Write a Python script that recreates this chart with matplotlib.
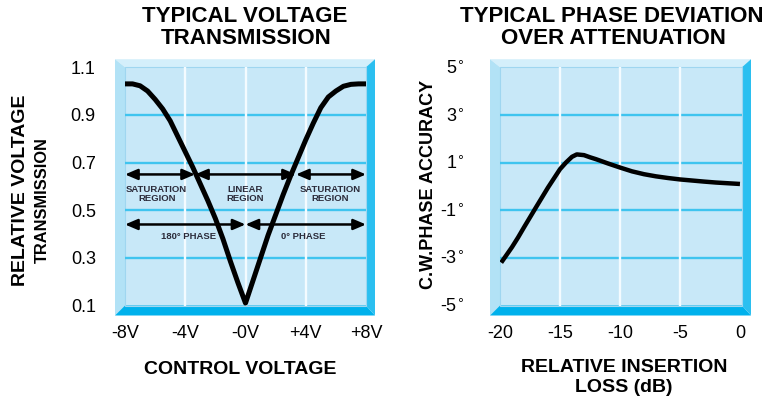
import matplotlib
matplotlib.use("Agg")
import matplotlib.pyplot as plt
from matplotlib.patches import Polygon, Rectangle

# ---------------- data ----------------
# Left chart: relative voltage transmission vs control voltage
ctrl_v = [-8, -7.5, -7, -6.5, -6, -5.5, -5, -4.5, -4, -3.5, -3, -2.5, -2, -1.5, -1, -0.5, 0,
          0.5, 1, 1.5, 2, 2.5, 3, 3.5, 4, 4.5, 5, 5.5, 6, 6.5, 7, 7.5, 8]
transmission = [1.03, 1.03, 1.022, 1.0, 0.965, 0.925, 0.875, 0.81, 0.745, 0.68, 0.61, 0.54, 0.465,
                0.38, 0.285, 0.195, 0.11,
                0.205, 0.30, 0.395, 0.48, 0.565, 0.645, 0.72, 0.795, 0.865, 0.93, 0.975, 1.0,
                1.02, 1.028, 1.03, 1.03]
left_xticks = [-8, -4, 0, 4, 8]
left_xticklabels = ["-8V", "-4V", "-0V", "+4V", "+8V"]
left_yticks = [0.1, 0.3, 0.5, 0.7, 0.9, 1.1]
left_yticklabels = ["0.1", "0.3", "0.5", "0.7", "0.9", "1.1"]

# region arrows (x-extents) and their labels
row1_y = 0.65
row1_segments = [(-8, -3.35), (-3.35, 3.35), (3.35, 8)]
row2_y = 0.44
row2_segments = [(-8, 0), (0, 8)]
region_labels = ["SATURATION\nREGION", "LINEAR\nREGION", "SATURATION\nREGION"]
region_label_x = [-5.9, 0.0, 5.6]
region_label_y = 0.568
phase_labels = ["180° PHASE", "0° PHASE"]
phase_label_x = [-3.8, 3.85]
phase_label_y = 0.39

# Right chart: phase deviation vs relative insertion loss
loss_db = [-19.9, -19, -18.5, -18, -17, -16, -15, -14.5, -14, -13.6, -13, -12.5, -12, -11.5,
           -11, -10, -9, -8, -7, -6, -5, -4, -3, -2, -1, 0]
phase_dev = [-3.2, -2.55, -2.15, -1.72, -0.88, -0.05, 0.72, 1.0, 1.24, 1.34, 1.31, 1.22, 1.14,
             1.05, 0.96, 0.79, 0.63, 0.51, 0.42, 0.35, 0.29, 0.245, 0.2, 0.16, 0.13, 0.1]
right_xticks = [-20, -15, -10, -5, 0]
right_xticklabels = ["-20", "-15", "-10", "-5", "0"]
right_yticks = [-5, -3, -1, 1, 3, 5]
right_yticklabels = [r"-5$^{\circ}$", r"-3$^{\circ}$", r"-1$^{\circ}$",
                     r"1$^{\circ}$", r"3$^{\circ}$", r"5$^{\circ}$"]

# ---------------- style ----------------
BOLD = ["Liberation Sans", "DejaVu Sans"]
NARROW = ["Liberation Sans Narrow", "Liberation Sans", "DejaVu Sans"]
plt.rcParams["font.family"] = BOLD
plt.rcParams["mathtext.fontset"] = "dejavusans"

FILL = "#c8e8f8"
HGRID = "#3fc4ef"
VGRID = "#f4fbff"
TOP_BAND = "#d4effb"
LEFT_BAND = "#b2e2f6"
RIGHT_BAND = "#2bbff0"
BOTTOM_BAND = "#00b1ec"


def style_panel(ax, hgrid, vgrid):
    ax.set_facecolor(FILL)
    for s in ax.spines.values():
        s.set_visible(False)
    for y in hgrid:
        ax.axhline(y, color=HGRID, lw=1.7, zorder=1)
    for x in vgrid:
        ax.axvline(x, color=VGRID, lw=1.7, zorder=1.2)
    bb = ax.get_position()
    fw, fh = 776.0, 400.0
    wpx, hpx = bb.width * fw, bb.height * fh
    dl, dr = 10 / wpx, 9 / wpx
    dt, db = 8 / hpx, 10 / hpx
    T = ax.transAxes
    polys = [
        ([(-dl, 1 + dt), (1 + dr, 1 + dt), (1, 1), (0, 1)], TOP_BAND),
        ([(-dl, -db), (-dl, 1 + dt), (0, 1), (0, 0)], LEFT_BAND),
        ([(-dl, -db), (1 + dr, -db), (1, 0), (0, 0)], BOTTOM_BAND),
        ([(1 + dr, 1 + dt), (1 + dr, -db), (1, 0), (1, 1)], RIGHT_BAND),
    ]
    for pts, c in polys:
        ax.add_patch(Polygon(pts, closed=True, transform=T, facecolor=c,
                             edgecolor="none", clip_on=False, zorder=0.5))
    ax.add_patch(Rectangle((0, 0), 1, 1, transform=T, fill=False,
                           edgecolor="#9fd6f0", lw=0.8, clip_on=False, zorder=0.6))
    ax.tick_params(length=0)


fig = plt.figure(figsize=(7.76, 4.0), dpi=100)
bottom = (400 - 305.5) / 400
height = 238.3 / 400

# ---------------- left panel ----------------
ax1 = fig.add_axes([125 / 776, bottom, 241 / 776, height])
ax1.set_xlim(-8, 8)
ax1.set_ylim(0.1, 1.1)
style_panel(ax1, [0.3, 0.5, 0.7, 0.9], [-4, 0, 4])
ax1.plot(ctrl_v, transmission, color="black", lw=3.6, solid_joinstyle="round",
         solid_capstyle="butt", zorder=4, clip_on=False)

arrow_style = "<|-|>,head_length=0.75,head_width=0.32"
for x0, x1 in row1_segments:
    ax1.annotate("", xy=(x1, row1_y), xytext=(x0, row1_y),
                 arrowprops=dict(arrowstyle=arrow_style, color="black", lw=1.8,
                                 shrinkA=0, shrinkB=0), zorder=3)
for x0, x1 in row2_segments:
    ax1.annotate("", xy=(x1, row2_y), xytext=(x0, row2_y),
                 arrowprops=dict(arrowstyle=arrow_style, color="black", lw=1.8,
                                 shrinkA=0, shrinkB=0), zorder=3)
for lab, x in zip(region_labels, region_label_x):
    ax1.text(x, region_label_y, lab, ha="center", va="center", fontsize=6.8,
             fontweight="bold", color="#2b2b3a", linespacing=0.95, zorder=2.5)
for lab, x in zip(phase_labels, phase_label_x):
    ax1.text(x, phase_label_y, lab, ha="center", va="center", fontsize=6.8,
             fontweight="bold", color="#2b2b3a", zorder=2.5)

ax1.set_xticks(left_xticks)
ax1.set_xticklabels(left_xticklabels, family=NARROW, fontsize=13)
ax1.set_yticks(left_yticks)
ax1.set_yticklabels(left_yticklabels, family=NARROW, fontsize=13)
ax1.tick_params(axis="x", pad=14)
ax1.tick_params(axis="y", pad=21)

# ---------------- right panel ----------------
ax2 = fig.add_axes([500 / 776, bottom, 242 / 776, height])
ax2.set_xlim(-20, 0.17)
ax2.set_ylim(-5, 5)
style_panel(ax2, [-3, -1, 1, 3], [-15, -10, -5])
ax2.plot(loss_db, phase_dev, color="black", lw=3.2, solid_joinstyle="round",
         solid_capstyle="butt", zorder=4)
ax2.set_xticks(right_xticks)
ax2.set_xticklabels(right_xticklabels, family=NARROW, fontsize=13)
ax2.set_yticks(right_yticks)
ax2.set_yticklabels(right_yticklabels, family=NARROW, fontsize=13)
ax2.tick_params(axis="x", pad=14)
ax2.tick_params(axis="y", pad=26)

# ---------------- titles & labels ----------------
TFS = 16
fig.text(245 / 776, 1 - 17 / 400, "TYPICAL VOLTAGE", ha="center", va="center",
         fontsize=TFS, fontweight="bold")
fig.text(246 / 776, 1 - 39 / 400, "TRANSMISSION", ha="center", va="center",
         fontsize=TFS, fontweight="bold")
fig.text(612 / 776, 1 - 17 / 400, "TYPICAL PHASE DEVIATION", ha="center", va="center",
         fontsize=TFS, fontweight="bold")
fig.text(613 / 776, 1 - 39 / 400, "OVER ATTENUATION", ha="center", va="center",
         fontsize=TFS, fontweight="bold")

fig.text(21 / 776, 1 - 190 / 400, "RELATIVE VOLTAGE", rotation=90, ha="center", va="center",
         fontsize=14, fontweight="bold")
fig.text(42 / 776, 1 - 200 / 400, "TRANSMISSION", rotation=90, ha="center", va="center",
         fontsize=11.8, fontweight="bold")
fig.text(428 / 776, 1 - 184 / 400, "C.W.PHASE ACCURACY", rotation=90, ha="center",
         va="center", fontsize=13, fontweight="bold")

fig.text(240 / 776, 1 - 370 / 400, "CONTROL VOLTAGE", ha="center", va="center",
         fontsize=14, fontweight="bold")
fig.text(624 / 776, 1 - 368 / 400, "RELATIVE INSERTION", ha="center", va="center",
         fontsize=14, fontweight="bold")
fig.text(624 / 776, 1 - 387 / 400, "LOSS (dB)", ha="center", va="center",
         fontsize=14, fontweight="bold")

fig.savefig("out.png", dpi=100)
